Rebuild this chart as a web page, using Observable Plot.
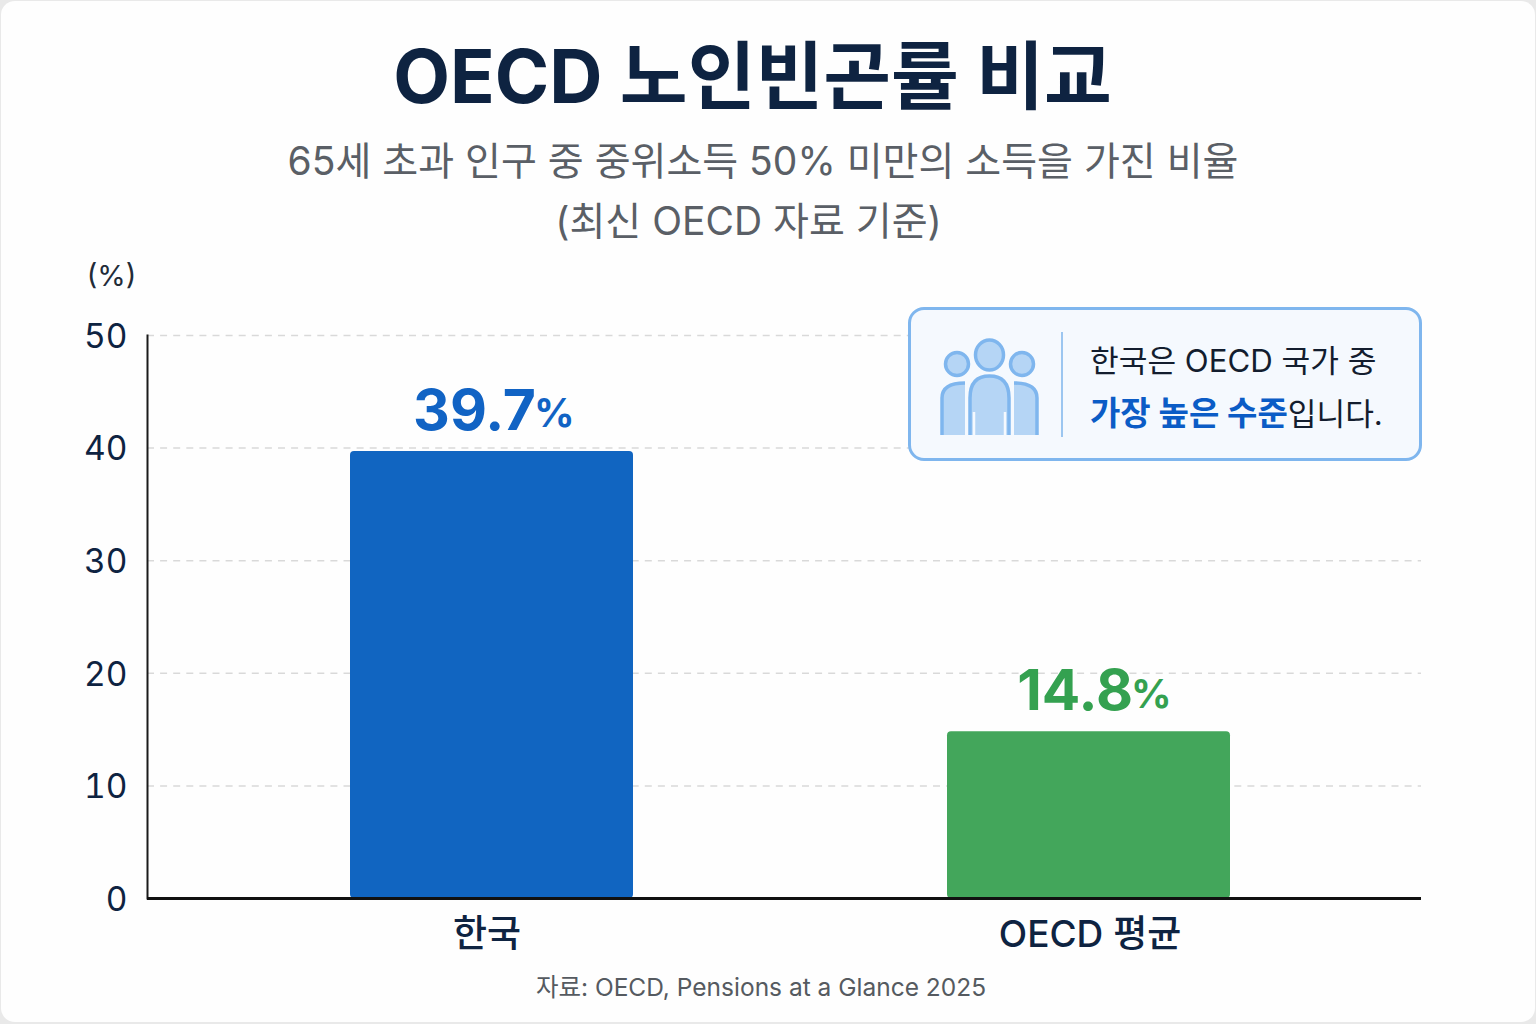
<!DOCTYPE html>
<html lang="ko">
<head>
<meta charset="utf-8">
<script src="https://cdn.jsdelivr.net/npm/d3@7"></script>
<script src="https://cdn.jsdelivr.net/npm/@observablehq/plot@0.6"></script>
<style>
html,body{margin:0;padding:0;background:#e9e9e9;}
body{width:1536px;height:1024px;overflow:hidden;position:relative;font-family:Inter,"Noto Sans CJK KR","Noto Sans",sans-serif;}
#card{position:absolute;left:1px;top:1px;width:1534px;height:1021px;background:#fefefe;border-radius:14px;overflow:hidden;}
#page{position:absolute;left:-1px;top:-1px;width:1536px;height:1024px;}
.t{position:absolute;left:0;text-align:center;white-space:nowrap;line-height:1;}
#title{top:40px;width:1505px;font-size:73.700px;font-weight:700;color:#0e2341;}
.sub{font-size:39px;color:#5a5f66;font-weight:400;}
#chart{position:absolute;left:0;top:250px;}
#source{position:absolute;left:0;width:1522px;text-align:center;top:975px;font-size:24.500px;line-height:1;color:#555a60;}
#callout{position:absolute;left:908px;top:307px;width:508px;height:148px;border:3px solid #7fb6ee;border-radius:16px;background:#f5f9fe;box-sizing:content-box;}
#callout svg{position:absolute;left:0;top:0;}
.cl{position:absolute;left:179px;white-space:nowrap;font-size:31.200px;line-height:1;color:#131d2e;}
.cl b{color:#0b5cc6;font-weight:700;font-size:33px;}
</style>
</head>
<body>
<div id="card"><div id="page">
  <div id="title" class="t">OECD 노인빈곤률 비교</div>
  <div class="t sub" style="top:141px;width:1526px">65세 초과 인구 중 중위소득 50% 미만의 소득을 가진 비율</div>
  <div class="t sub" style="top:201px;width:1497px">(최신 OECD 자료 기준)</div>
  <div id="chart"></div>
  <div id="callout">
    <svg width="170" height="148" viewBox="0 0 170 148">
      <g transform="translate(1,0)" fill="#b5d5f5" stroke="#7fb6ee" stroke-width="3.500">
        <circle cx="45" cy="54" r="11.500"/>
        <circle cx="110" cy="54" r="11.500"/>
        <path d="M30 125V88Q30 73 53 73V125Z" stroke="none"/>
        <path d="M30 125V88Q30 73 53 73" fill="none"/>
        <path d="M125 125V88Q125 73 102 73V125Z" stroke="none"/>
        <path d="M125 125V88Q125 73 102 73" fill="none"/>
        <ellipse cx="77.500" cy="45" rx="14" ry="15"/>
        <path d="M58 125V88Q58 66 77.500 66Q97 66 97 88V125Z" stroke="none"/>
        <path d="M58 125V88Q58 66 77.500 66Q97 66 97 88V125" fill="none"/>
        <path d="M62 125V102M93 125V102" fill="none" stroke="#f5f9fe" stroke-width="2.500"/>
      </g>
      <line x1="151" y1="22" x2="151" y2="127" stroke="#9cc6f0" stroke-width="2"/>
    </svg>
    <div class="cl" style="top:36px">한국은 OECD 국가 중</div>
    <div class="cl" style="top:87px"><b>가장 높은 수준</b>입니다.</div>
  </div>
  <div id="source">자료: OECD, Pensions at a Glance 2025</div>
</div></div>
<script>
const categories = ["한국", "OECD 평균"];
const rates = [39.7, 14.8];
const barColors = ["#1165c1", "#43a65b"];
const labelColors = ["#1163c4", "#34a150"];
const yTicks = [0, 10, 20, 30, 40, 50];
const yUnit = "(%)";
const percentSign = "%";

const table = categories.map((name, i) => ({
  name, rate: rates[i], bar: barColors[i], ink: labelColors[i],
  label: rates[i].toFixed(1)
}));
const font = 'Inter,"Noto Sans CJK KR","Noto Sans",sans-serif';
const catStyle = {tickSize: 0, tickPadding: 22, fontSize: 37, fontWeight: 500, fill: "#0e2341", label: null};

const chart = Plot.plot({
  width: 1536,
  height: 710,
  marginTop: 85,
  marginBottom: 62,
  marginLeft: 147,
  marginRight: 115,
  style: {fontFamily: font, background: "transparent", overflow: "visible"},
  x: {domain: categories, range: [349, 1230], paddingInner: 0.526, paddingOuter: 0, label: null},
  y: {domain: [0, 50], label: null},
  marks: [
    Plot.gridY(yTicks, {stroke: "#d9d9d9", strokeOpacity: 1, strokeWidth: 1.500, strokeDasharray: "7 6.100"}),
    Plot.barY(table, {x: "name", y: "rate", fill: d => d.bar, r: 4}),
    Plot.text(table, {x: "name", y: "rate", text: "label", fill: d => d.ink, fontSize: 57, fontWeight: 700, textAnchor: "end", dx: 44, dy: -40, lineAnchor: "middle"}),
    Plot.text(table, {x: "name", y: "rate", text: () => percentSign, fill: d => d.ink, fontSize: 40, fontWeight: 700, textAnchor: "start", dx: 42, dy: -37, lineAnchor: "middle"}),
    Plot.frame({anchor: "left", stroke: "#1a1a1a", strokeWidth: 2}),
    Plot.ruleY([0], {stroke: "#111", strokeWidth: 3}),
    Plot.axisY({ticks: yTicks, tickSize: 0, tickPadding: 20, fontSize: 33.500, fill: "#0e2341", label: null, dy: 1.500}),
    Plot.axisX([categories[0]], {...catStyle, dx: -5}),
    Plot.axisX([categories[1]], {...catStyle, dx: 1}),
    Plot.text([yUnit], {frameAnchor: "top-left", dx: -36, dy: -70, fill: "#222b38", fontSize: 29, textAnchor: "middle"})
  ]
});
document.getElementById("chart").appendChild(chart);
</script>
</body>
</html>
